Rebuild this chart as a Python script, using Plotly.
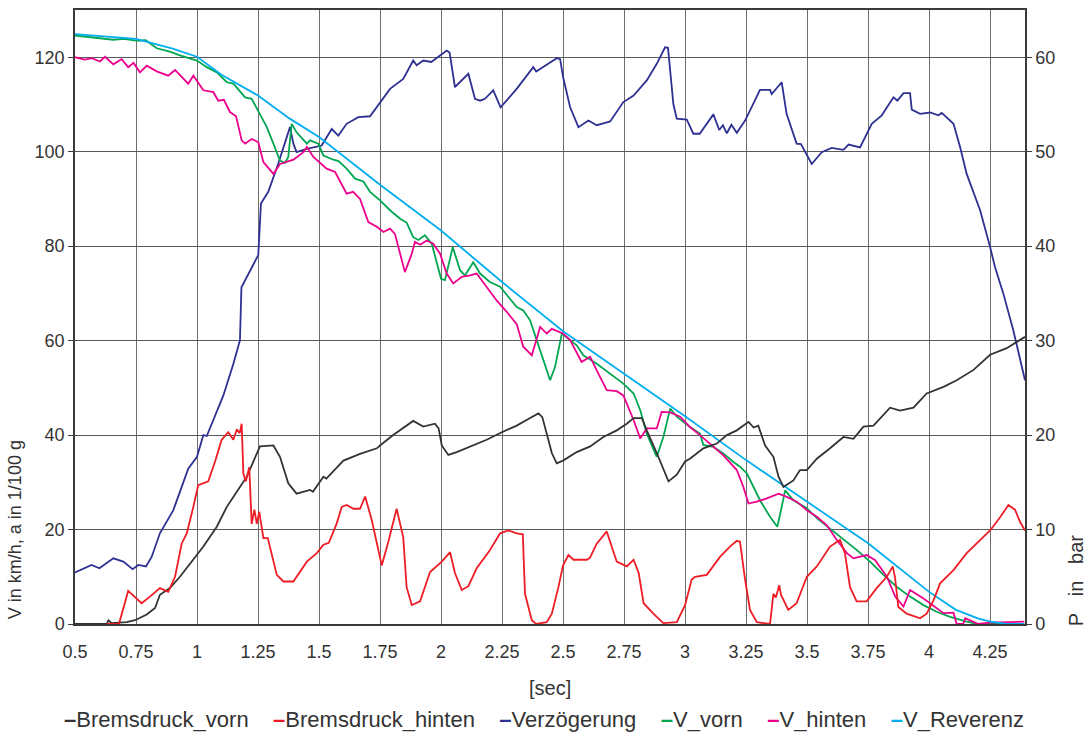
import plotly.graph_objects as go

# ---------------- data ----------------
# V_Reverenz [km/h]
t_vref = [0.5, 0.6, 0.75, 0.9, 1.0, 1.1, 1.25, 1.38, 1.5, 1.75, 2.0, 2.25, 2.5, 2.75, 3.0,
          3.25, 3.5, 3.75, 4.0, 4.11, 4.2, 4.25, 4.32, 4.39]
v_vref = [124.9, 124.5, 123.9, 121.8, 120.1, 116.3, 111.9, 107.0, 103.1, 93.0, 83.3, 72.4, 62.0,
          53.0, 44.0, 34.7, 25.9, 17.1, 6.8, 3.0, 1.2, 0.5, 0.0, 0.0]

# V_vorn [km/h]
t_vv = [0.5, 0.55, 0.6, 0.657, 0.7, 0.75, 0.79, 0.835, 0.889, 0.93, 1.0, 1.04, 1.081, 1.122,
        1.149, 1.197, 1.224, 1.251, 1.286, 1.313, 1.34, 1.36, 1.374, 1.388, 1.408, 1.45, 1.463,
        1.497, 1.518, 1.559, 1.58, 1.613, 1.648, 1.682, 1.709, 1.75, 1.791, 1.832, 1.859, 1.886,
        1.907, 1.934, 1.962, 2.0, 2.016, 2.048, 2.078, 2.098, 2.132, 2.16, 2.2, 2.242, 2.276,
        2.31, 2.337, 2.365, 2.392, 2.447, 2.467, 2.495, 2.556, 2.583, 2.638, 2.693, 2.747, 2.789,
        2.816, 2.843, 2.884, 2.911, 2.939, 2.966, 2.993, 3.02, 3.061, 3.075, 3.116, 3.157, 3.198,
        3.225, 3.253, 3.307, 3.348, 3.378, 3.396, 3.41, 3.444, 3.499, 3.54, 3.594, 3.649, 3.703,
        3.758, 3.813, 3.867, 3.922, 3.977, 4.031, 4.086, 4.154, 4.2, 4.39]
v_vv = [124.6, 124.3, 124.0, 123.7, 123.9, 123.5, 123.6, 121.9, 121.2, 120.4, 119.3, 117.9, 116.8,
        114.7, 114.4, 111.5, 111.2, 108.7, 105.2, 101.7, 98.1, 97.6, 98.9, 105.9, 104.1, 101.7,
        102.4, 101.7, 99.2, 98.3, 98.0, 96.4, 94.3, 93.7, 91.5, 89.7, 87.6, 85.8, 85.0, 81.9,
        81.3, 82.3, 80.5, 73.1, 72.8, 79.8, 74.9, 73.8, 76.6, 74.2, 72.4, 71.4, 69.3, 67.1, 66.4,
        64.3, 60.1, 51.6, 54.4, 61.5, 59.0, 56.9, 55.1, 53.0, 50.9, 48.8, 45.3, 40.3, 35.4, 39.6,
        45.6, 43.9, 42.8, 41.7, 40.3, 37.9, 37.5, 36.1, 34.3, 33.3, 31.9, 26.2, 22.7, 20.6, 24.8,
        28.3, 26.2, 24.5, 22.4, 20.2, 17.8, 15.7, 13.2, 10.4, 7.9, 5.8, 4.0, 2.6, 1.5, 0.5, 0.0,
        0.0]

# V_hinten [km/h]
t_vh = [0.5, 0.54, 0.57, 0.602, 0.623, 0.657, 0.691, 0.718, 0.74, 0.766, 0.794, 0.835, 0.882,
        0.91, 0.964, 0.985, 1.026, 1.067, 1.087, 1.11, 1.135, 1.16, 1.183, 1.197, 1.224, 1.251,
        1.272, 1.313, 1.34, 1.395, 1.436, 1.45, 1.477, 1.531, 1.566, 1.613, 1.64, 1.668, 1.702,
        1.737, 1.764, 1.791, 1.811, 1.832, 1.852, 1.88, 1.893, 1.915, 1.941, 1.968, 1.996, 2.023,
        2.05, 2.085, 2.119, 2.146, 2.173, 2.228, 2.269, 2.296, 2.31, 2.337, 2.372, 2.392, 2.406,
        2.433, 2.454, 2.5, 2.529, 2.576, 2.611, 2.638, 2.679, 2.72, 2.747, 2.789, 2.816, 2.843,
        2.884, 2.904, 2.939, 2.98, 3.02, 3.061, 3.102, 3.157, 3.212, 3.239, 3.26, 3.294, 3.335,
        3.383, 3.417, 3.458, 3.499, 3.54, 3.581, 3.622, 3.663, 3.69, 3.744, 3.779, 3.827, 3.861,
        3.895, 3.922, 3.977, 4.031, 4.059, 4.1, 4.113, 4.14, 4.148, 4.18, 4.2, 4.25, 4.39]
v_vh = [120.0, 119.5, 119.8, 119.1, 120.1, 118.5, 119.6, 117.9, 118.8, 116.8, 118.2, 117.0, 116.1,
        117.3, 114.4, 116.1, 113.0, 112.6, 110.8, 111.0, 108.4, 107.5, 102.4, 101.7, 102.7, 102.0,
        97.8, 95.3, 97.4, 98.3, 99.9, 101.0, 98.9, 96.4, 95.7, 91.1, 91.5, 90.0, 85.1, 84.1, 83.0,
        83.7, 82.6, 78.4, 74.5, 78.4, 80.9, 80.3, 81.2, 80.5, 78.4, 74.2, 72.1, 73.5, 73.8, 74.2,
        72.4, 68.5, 66.1, 64.3, 63.5, 58.7, 56.9, 60.4, 62.9, 61.5, 62.5, 61.5, 60.1, 55.5, 56.6,
        53.7, 49.5, 49.3, 48.4, 43.2, 39.3, 41.4, 41.4, 44.9, 44.8, 43.9, 41.7, 40.0, 38.2, 35.7,
        32.6, 29.0, 25.5, 25.9, 26.6, 27.6, 26.9, 25.9, 24.1, 22.7, 20.9, 17.8, 15.0, 13.9, 14.6,
        13.5, 10.0, 5.8, 3.7, 7.2, 5.4, 3.3, 2.3, 2.4, 0.0, 0.0, 1.2, 0.5, 0.0, 0.3, 0.5]

# Verzoegerung [1/100 g]
t_a = [0.5, 0.568, 0.6, 0.657, 0.698, 0.736, 0.76, 0.791, 0.814, 0.848, 0.903, 0.964, 1.0, 1.026,
       1.04, 1.074, 1.108, 1.149, 1.176, 1.182, 1.251, 1.262, 1.292, 1.333, 1.381, 1.395, 1.408,
       1.45, 1.511, 1.552, 1.579, 1.613, 1.661, 1.709, 1.791, 1.845, 1.886, 1.9, 1.927, 1.96,
       2.023, 2.035, 2.057, 2.112, 2.139, 2.16, 2.18, 2.214, 2.244, 2.31, 2.378, 2.39, 2.474,
       2.488, 2.5, 2.529, 2.563, 2.604, 2.638, 2.665, 2.693, 2.747, 2.789, 2.843, 2.884, 2.918,
       2.93, 2.952, 2.966, 3.007, 3.034, 3.06, 3.116, 3.14, 3.155, 3.171, 3.19, 3.212, 3.246,
       3.307, 3.348, 3.355, 3.396, 3.416, 3.457, 3.475, 3.519, 3.56, 3.601, 3.649, 3.67, 3.717,
       3.765, 3.806, 3.854, 3.87, 3.895, 3.922, 3.929, 3.963, 4.004, 4.038, 4.052, 4.1, 4.127,
       4.154, 4.209, 4.25, 4.27, 4.304, 4.345, 4.393]
v_a = [10.9, 12.5, 11.8, 13.9, 13.2, 11.6, 12.5, 12.2, 14.2, 19.2, 24.1, 32.9, 35.4, 40.0, 39.8,
       43.9, 48.4, 55.1, 60.1, 71.3, 78.1, 89.0, 91.5, 97.5, 105.2, 101.7, 99.9, 100.6, 101.3,
       104.8, 103.4, 105.9, 107.3, 107.5, 113.3, 115.4, 119.3, 118.3, 119.3, 119.0, 121.4, 121.0,
       113.7, 116.5, 111.2, 110.8, 111.2, 113.0, 109.4, 113.3, 117.9, 117.0, 119.8, 119.6, 115.8,
       109.4, 105.2, 106.6, 105.6, 106.0, 106.4, 110.5, 111.9, 115.1, 118.6, 122.1, 122.0, 110.1,
       107.0, 106.8, 103.8, 103.8, 107.9, 104.6, 105.6, 103.9, 105.7, 104.0, 106.6, 113.1, 113.1,
       112.2, 114.7, 108.0, 101.7, 101.6, 97.4, 99.9, 100.8, 100.4, 101.5, 100.9, 105.9, 107.7,
       111.5, 110.8, 112.4, 112.4, 108.9, 108.0, 108.3, 107.7, 108.2, 105.9, 101.0, 95.3, 87.6,
       79.8, 75.6, 70.0, 62.2, 51.6]

# Bremsdruck_vorn [bar]
t_pv = [0.5, 0.63, 0.637, 0.65, 0.712, 0.746, 0.794, 0.828, 0.848, 0.889, 0.93, 0.985, 1.026,
        1.081, 1.122, 1.163, 1.204, 1.258, 1.313, 1.34, 1.374, 1.408, 1.463, 1.475, 1.518, 1.53,
        1.6, 1.668, 1.737, 1.75, 1.804, 1.886, 1.927, 1.975, 1.99, 2.003, 2.03, 2.064, 2.119,
        2.187, 2.249, 2.31, 2.365, 2.399, 2.415, 2.433, 2.454, 2.474, 2.5, 2.556, 2.611, 2.665,
        2.72, 2.761, 2.789, 2.823, 2.843, 2.884, 2.911, 2.932, 2.966, 3.0, 3.02, 3.075, 3.13,
        3.171, 3.212, 3.26, 3.281, 3.3, 3.328, 3.362, 3.383, 3.403, 3.444, 3.471, 3.499, 3.54,
        3.594, 3.649, 3.69, 3.731, 3.772, 3.84, 3.881, 3.936, 3.99, 4.059, 4.113, 4.182, 4.25,
        4.318, 4.393]
p_pv = [0.0, 0.0, 0.4, 0.1, 0.2, 0.4, 1.0, 1.7, 3.1, 3.8, 5.0, 6.8, 8.2, 10.3, 12.4, 14.0, 15.6,
        18.8, 18.9, 17.7, 14.9, 13.8, 14.2, 14.0, 15.6, 15.4, 17.3, 18.0, 18.6, 18.9, 20.0, 21.5,
        20.9, 21.2, 20.7, 18.9, 17.9, 18.2, 18.8, 19.5, 20.3, 21.0, 21.8, 22.3, 21.9, 20.2, 18.1,
        17.0, 17.3, 18.2, 18.8, 19.8, 20.5, 21.2, 21.8, 21.8, 20.5, 18.1, 16.5, 15.1, 15.8, 17.2,
        17.5, 18.6, 19.1, 20.0, 20.5, 21.4, 20.8, 21.0, 18.9, 17.7, 15.6, 14.5, 15.2, 16.3, 16.3,
        17.5, 18.6, 19.8, 19.6, 20.9, 21.0, 22.9, 22.6, 22.9, 24.4, 25.1, 25.8, 26.9, 28.5, 29.2,
        30.4]

# Bremsdruck_hinten [bar]
t_ph = [0.63, 0.68, 0.718, 0.773, 0.807, 0.848, 0.882, 0.91, 0.937, 0.958, 0.985, 1.005, 1.046,
        1.074, 1.101, 1.128, 1.149, 1.163, 1.175, 1.183, 1.19, 1.2, 1.214, 1.224, 1.235, 1.245,
        1.255, 1.272, 1.29, 1.327, 1.354, 1.395, 1.45, 1.491, 1.518, 1.54, 1.572, 1.593, 1.613,
        1.641, 1.668, 1.689, 1.716, 1.757, 1.784, 1.818, 1.845, 1.859, 1.88, 1.914, 1.955, 2.003,
        2.037, 2.057, 2.085, 2.112, 2.146, 2.2, 2.242, 2.276, 2.31, 2.335, 2.344, 2.372, 2.39,
        2.433, 2.454, 2.481, 2.5, 2.522, 2.543, 2.597, 2.61, 2.638, 2.679, 2.72, 2.761, 2.789,
        2.81, 2.83, 2.87, 2.911, 2.966, 3.0, 3.027, 3.041, 3.089, 3.143, 3.184, 3.212, 3.225,
        3.246, 3.266, 3.294, 3.348, 3.362, 3.372, 3.386, 3.393, 3.423, 3.457, 3.499, 3.54, 3.594,
        3.635, 3.655, 3.676, 3.703, 3.744, 3.785, 3.827, 3.851, 3.86, 3.874, 3.908, 3.963, 3.99,
        4.018, 4.045, 4.1, 4.154, 4.209, 4.25, 4.291, 4.325, 4.352, 4.373, 4.393]
p_ph = [0.0, 0.0, 3.5, 2.2, 2.9, 3.8, 3.4, 5.0, 8.5, 9.6, 12.4, 14.7, 15.1, 17.2, 19.5, 20.3,
        19.5, 20.6, 20.2, 21.2, 15.9, 15.1, 16.6, 10.6, 12.1, 10.6, 11.9, 9.1, 9.1, 5.2, 4.5, 4.5,
        6.6, 7.5, 8.4, 8.6, 10.6, 12.4, 12.6, 12.2, 12.2, 13.5, 11.0, 6.2, 8.7, 12.2, 9.2, 3.9,
        2.0, 2.4, 5.5, 6.6, 7.6, 5.4, 3.6, 4.0, 5.9, 7.8, 9.6, 9.9, 9.6, 9.5, 3.2, 0.4, 0.0, 0.2,
        1.1, 3.9, 6.2, 7.3, 6.8, 6.8, 7.0, 8.5, 9.8, 6.6, 6.1, 6.8, 5.4, 2.2, 1.1, 0.1, 0.2, 2.0,
        4.7, 5.0, 5.2, 7.1, 8.2, 8.8, 8.7, 4.7, 1.5, 0.2, 0.0, 3.2, 2.8, 4.1, 3.1, 1.5, 2.2, 5.0,
        6.1, 8.2, 8.9, 7.5, 3.9, 2.4, 2.4, 3.8, 5.0, 6.1, 5.0, 1.8, 1.1, 0.6, 1.1, 2.5, 4.3, 5.7,
        7.5, 8.9, 9.9, 11.3, 12.6, 12.1, 10.8, 9.9]

series_names = ["Bremsdruck_vorn", "Bremsdruck_hinten", "Verzögerung", "V_vorn", "V_hinten",
                "V_Reverenz"]
x_ticks = [0.5, 0.75, 1, 1.25, 1.5, 1.75, 2, 2.25, 2.5, 2.75, 3, 3.25, 3.5, 3.75, 4, 4.25]
x_labels = ["0.5", "0.75", "1", "1.25", "1.5", "1.75", "2", "2.25", "2.5", "2.75", "3",
            "3.25", "3.5", "3.75", "4", "4.25"]
yl_ticks = [0, 20, 40, 60, 80, 100, 120]
yr_ticks = [0, 10, 20, 30, 40, 50, 60]

# ---------------- figure ----------------
FONT = "Liberation Sans, Arial, sans-serif"
TXT = "#333333"
LW = 1.8
colors = ["#333333", "#ee1c25", "#2e3192", "#00a651", "#ec008c", "#00aeef"]

series = [(t_pv, p_pv, "y2"), (t_ph, p_ph, "y2"), (t_a, v_a, "y"), (t_vv, v_vv, "y"),
          (t_vh, v_vh, "y"), (t_vref, v_vref, "y")]

fig = go.Figure()
for (tx, ty, ax), name, col in zip(series, series_names, colors):
    fig.add_trace(go.Scatter(x=tx, y=ty, name=name, yaxis=ax, mode="lines",
                             line=dict(color=col, width=LW)))

# Excel-style legend: short coloured dash directly before each name
gap = "\u00a0" * 4
legend_text = gap.join(
    "<span style='color:%s'><b>\u2013</b></span>%s" % (c, n)
    for n, c in zip(series_names, colors))

fig.update_layout(
    width=1092, height=736,
    margin=dict(l=75, r=67, t=8, b=112),
    paper_bgcolor="white", plot_bgcolor="white",
    font=dict(family=FONT, size=18, color=TXT),
    showlegend=False,
    xaxis=dict(range=[0.5, 4.393], tickvals=x_ticks, ticktext=x_labels, showgrid=True,
               gridcolor="#6e6e6e", gridwidth=1.2, zeroline=False, showline=True,
               linecolor="#3a3a3a", linewidth=1.5, mirror=True, ticks="",
               ticklabelstandoff=11, tickfont=dict(size=18, color=TXT)),
    yaxis=dict(range=[0, 130], tickvals=yl_ticks, showgrid=True, gridcolor="#5a5a5a",
               gridwidth=1.2, zeroline=False, showline=True, linecolor="#3a3a3a",
               linewidth=1.5, mirror=True, ticks="outside", ticklen=5, tickcolor="#3a3a3a",
               tickfont=dict(size=18, color=TXT)),
    yaxis2=dict(range=[0, 65], tickvals=yr_ticks, overlaying="y", side="right",
                showgrid=False, zeroline=False, showline=True, linecolor="#3a3a3a",
                linewidth=1.5, ticks="outside", ticklen=5, tickcolor="#3a3a3a",
                tickfont=dict(size=18, color=TXT)),
    annotations=[
        dict(text="V in km/h, a in 1/100 g", xref="paper", yref="paper", x=-0.063, y=0.004,
             xanchor="center", yanchor="bottom", textangle=-90, showarrow=False,
             font=dict(size=18, color=TXT)),
        dict(text="P\u00a0\u00a0\u00a0in\u00a0\u00a0\u00a0bar", xref="paper", yref="paper",
             x=1.053, y=-0.007, xanchor="center", yanchor="bottom", textangle=-90,
             showarrow=False, font=dict(size=20, color=TXT)),
        dict(text="[sec]", xref="paper", yref="paper", x=0.5, y=-0.104,
             xanchor="center", yanchor="middle", showarrow=False,
             font=dict(size=20, color=TXT)),
        dict(text=legend_text, xref="paper", yref="paper", x=0.4937, y=-0.156,
             xanchor="center", yanchor="middle", showarrow=False,
             font=dict(size=22, color=TXT)),
    ],
)

fig.write_html("out.html", config={"displayModeBar": False},
               post_script="document.body.style.margin='0';")
